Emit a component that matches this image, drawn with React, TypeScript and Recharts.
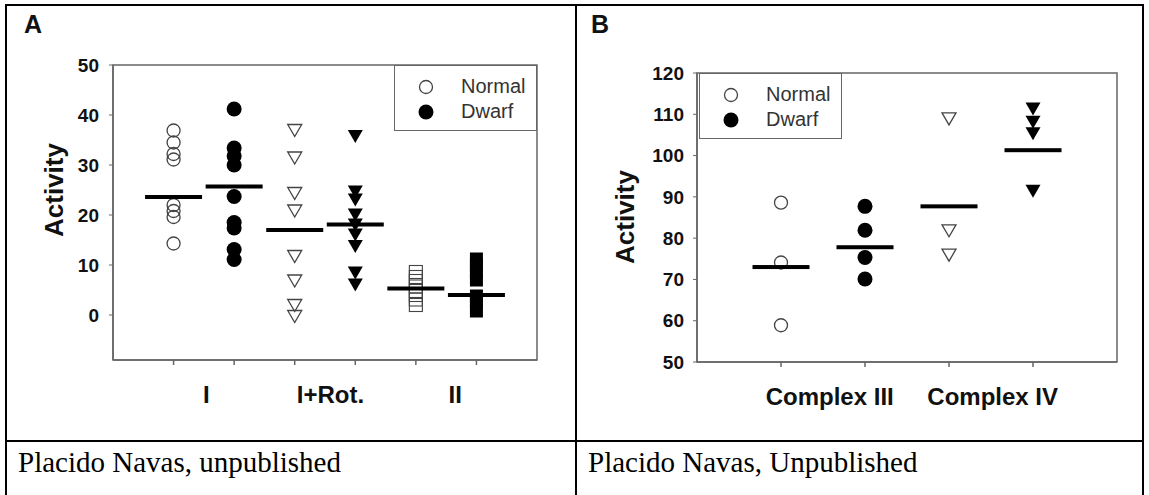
import React from "react";
import { ScatterChart, Scatter, XAxis, YAxis, ReferenceArea, Legend, Label } from "recharts";

// Panel A: complex I, I + rotenone, complex II
const normalI = [36.9, 34.5, 32.2, 31.1, 22.0, 20.8, 19.6, 14.3];
const dwarfI = [41.2, 33.4, 31.8, 30.0, 23.7, 18.5, 17.4, 13.1, 11.1];
const normalIRot = [37.0, 31.5, 24.4, 20.9, 11.8, 6.9, 2.0, -0.2];
const dwarfIRot = [35.8, 24.7, 23.1, 20.1, 18.1, 16.1, 13.8, 8.5, 6.1];
const normalII = [8.6, 7.6, 6.8, 5.7, 4.8, 4.0, 3.1, 2.0];
const dwarfII = [11.2, 10.0, 8.6, 7.0, 3.8, 2.6, 0.8];
const meansA = [23.6, 25.7, 17.0, 18.1, 5.3, 4.0];
const categoriesA = ["I", "I+Rot.", "II"];
const categoryPosA = [1.54, 3.59, 5.65];
const yTicksA = [0, 10, 20, 30, 40, 50];

// Panel B: complex III, complex IV
const normalCIII = [88.6, 74.1, 58.9];
const dwarfCIII = [87.7, 81.9, 75.3, 70.1];
const normalCIV = [109.0, 81.9, 76.0];
const dwarfCIV = [111.4, 108.2, 105.4, 91.5];
const meansB = [73.0, 77.8, 87.7, 101.3];
const categoriesB = ["Complex III", "Complex IV"];
const categoryPosB = [1.58, 3.52];
const yTicksB = [50, 60, 70, 80, 90, 100, 110, 120];

const legendLabels = ["Normal", "Dwarf"];
const footers = ["Placido Navas, unpublished", "Placido Navas, Unpublished"];

const SANS = "'Liberation Sans', Arial, sans-serif";
const AXIS = "#666";

const column = (values: number[], x: number) => values.map((y) => ({ x, y }));
const meanRow = (values: number[]) => values.map((y, i) => ({ x: i + 1, y }));

const OpenCircle = (p: any) => (
  <circle cx={p.cx} cy={p.cy} r={6.5} fill="none" stroke="#444" strokeWidth={1.3} />
);
const FilledCircle = (p: any) => <circle cx={p.cx} cy={p.cy} r={7.5} fill="#000" />;
const OpenTriangle = (p: any) => (
  <path
    d={`M${p.cx - 7},${p.cy - 5.5}L${p.cx + 7},${p.cy - 5.5}L${p.cx},${p.cy + 6.5}Z`}
    fill="none"
    stroke="#444"
    strokeWidth={1.3}
  />
);
const FilledTriangle = (p: any) => (
  <path d={`M${p.cx - 7.5},${p.cy - 6}L${p.cx + 7.5},${p.cy - 6}L${p.cx},${p.cy + 7}Z`} fill="#000" />
);
const OpenSquare = (p: any) => (
  <rect x={p.cx - 6.5} y={p.cy - 6.5} width={13} height={13} fill="none" stroke="#444" strokeWidth={1.1} />
);
const FilledSquare = (p: any) => <rect x={p.cx - 6.5} y={p.cy - 6.5} width={13} height={13} fill="#000" />;
const MeanBar = (p: any) => <rect x={p.cx - 28.5} y={p.cy - 2} width={57} height={4} fill="#000" />;

const XTick = (props: any) => {
  const { x, y, payload, labels, positions } = props;
  const idx = positions.findIndex((v: number) => Math.abs(v - payload.value) < 1e-6);
  if (idx >= 0) {
    return (
      <text x={x} y={y + 43} textAnchor="middle" fontFamily={SANS} fontWeight="bold" fontSize={24} fill="#111">
        {labels[idx]}
      </text>
    );
  }
  return <line x1={x} y1={y} x2={x} y2={y + 5} stroke={AXIS} strokeWidth={1.5} />;
};

const LegendBox = () => (
  <div
    style={{
      width: 143,
      height: 66,
      border: "1.5px solid #666",
      boxSizing: "border-box",
      background: "#fff",
      position: "relative",
      fontFamily: SANS,
    }}
  >
    {legendLabels.map((label, i) => (
      <div key={label}>
        <svg
          width={18}
          height={18}
          style={{ position: "absolute", left: 22, top: 12 + i * 25 }}
        >
          {i === 0 ? (
            <circle cx={9} cy={9} r={6.5} fill="none" stroke="#444" strokeWidth={1.3} />
          ) : (
            <circle cx={9} cy={9} r={7.5} fill="#000" />
          )}
        </svg>
        <span
          style={{
            position: "absolute",
            left: 66,
            top: 9 + i * 25,
            fontSize: 20,
            lineHeight: "22px",
            color: "#333",
          }}
        >
          {label}
        </span>
      </div>
    ))}
  </div>
);

const yLabel = (cx: number, cy: number) => (props: any) => {
  const vb = props.viewBox;
  return (
    <text
      x={vb.x + cx}
      y={cy}
      transform={`rotate(-90, ${vb.x + cx}, ${cy})`}
      textAnchor="middle"
      dominantBaseline="central"
      fontFamily={SANS}
      fontWeight="bold"
      fontSize={26}
      fill="#111"
    >
      Activity
    </text>
  );
};

const tickStyle = { fontFamily: SANS, fontWeight: "bold", fontSize: 19, fill: "#111" };

function PanelA() {
  return (
    <ScatterChart width={576} height={440} margin={{ top: 65, right: 39, bottom: 0, left: 0 }}>
      <ReferenceArea x1={0} x2={7} y1={-9} y2={50} fill="none" stroke={AXIS} strokeWidth={1.5} ifOverflow="visible" />
      <XAxis
        type="number"
        dataKey="x"
        domain={[0, 7]}
        ticks={[1, 2, 3, 4, 5, 6, ...categoryPosA]}
        interval={0}
        height={80}
        tickSize={0}
        tickMargin={0}
        tickLine={false}
        axisLine={{ stroke: AXIS, strokeWidth: 1.5 }}
        tick={(p: any) => <XTick {...p} labels={categoriesA} positions={categoryPosA} />}
      />
      <YAxis
        type="number"
        dataKey="y"
        domain={[-9, 50]}
        ticks={yTicksA}
        interval={0}
        width={113}
        tickSize={4}
        tickMargin={10}
        tickLine={{ stroke: AXIS }}
        axisLine={{ stroke: AXIS, strokeWidth: 1.5 }}
        tick={tickStyle}
      >
        <Label content={yLabel(54, 190)} />
      </YAxis>
      <Scatter data={column(normalI, 1)} shape={OpenCircle} isAnimationActive={false} />
      <Scatter data={column(dwarfI, 2)} shape={FilledCircle} isAnimationActive={false} />
      <Scatter data={column(normalIRot, 3)} shape={OpenTriangle} isAnimationActive={false} />
      <Scatter data={column(dwarfIRot, 4)} shape={FilledTriangle} isAnimationActive={false} />
      <Scatter data={column(normalII, 5)} shape={OpenSquare} isAnimationActive={false} />
      <Scatter data={column(dwarfII, 6)} shape={FilledSquare} isAnimationActive={false} />
      <Scatter data={meanRow(meansA)} shape={MeanBar} isAnimationActive={false} />
      <Legend
        layout="vertical"
        align="center"
        verticalAlign="middle"
        content={() => <LegendBox />}
        wrapperStyle={{ position: "absolute", left: 394, top: 65, width: 143, height: 66 }}
      />
    </ScatterChart>
  );
}

function PanelB() {
  return (
    <ScatterChart width={573} height={440} margin={{ top: 73, right: 32, bottom: 0, left: 0 }}>
      <ReferenceArea x1={0} x2={5} y1={50} y2={120} fill="none" stroke={AXIS} strokeWidth={1.5} ifOverflow="visible" />
      <XAxis
        type="number"
        dataKey="x"
        domain={[0, 5]}
        ticks={[1, 2, 3, 4, ...categoryPosB]}
        interval={0}
        height={78}
        tickSize={0}
        tickMargin={0}
        tickLine={false}
        axisLine={{ stroke: AXIS, strokeWidth: 1.5 }}
        tick={(p: any) => <XTick {...p} labels={categoriesB} positions={categoryPosB} />}
      />
      <YAxis
        type="number"
        dataKey="y"
        domain={[50, 120]}
        ticks={yTicksB}
        interval={0}
        width={121}
        tickSize={4}
        tickMargin={9}
        tickLine={{ stroke: AXIS }}
        axisLine={{ stroke: AXIS, strokeWidth: 1.5 }}
        tick={tickStyle}
      >
        <Label content={yLabel(49, 217)} />
      </YAxis>
      <Scatter data={column(normalCIII, 1)} shape={OpenCircle} isAnimationActive={false} />
      <Scatter data={column(dwarfCIII, 2)} shape={FilledCircle} isAnimationActive={false} />
      <Scatter data={column(normalCIV, 3)} shape={OpenTriangle} isAnimationActive={false} />
      <Scatter data={column(dwarfCIV, 4)} shape={FilledTriangle} isAnimationActive={false} />
      <Scatter data={meanRow(meansB)} shape={MeanBar} isAnimationActive={false} />
      <Legend
        layout="vertical"
        align="center"
        verticalAlign="middle"
        content={() => <LegendBox />}
        wrapperStyle={{ position: "absolute", left: 123, top: 73, width: 143, height: 66 }}
      />
    </ScatterChart>
  );
}

const panelLetter = (left: number, text: string) => (
  <div
    style={{
      position: "absolute",
      left,
      top: 10,
      fontFamily: SANS,
      fontWeight: "bold",
      fontSize: 25,
      lineHeight: "28px",
      color: "#111",
    }}
  >
    {text}
  </div>
);

export default function App() {
  const line = "#000";
  return (
    <div
      style={{
        position: "absolute",
        left: 0,
        top: 0,
        width: 1149,
        height: 495,
        background: "#fff",
        overflow: "hidden",
      }}
    >
      <div style={{ position: "absolute", left: 0, top: 0 }}>
        <PanelA />
      </div>
      <div style={{ position: "absolute", left: 576, top: 0 }}>
        <PanelB />
      </div>
      {panelLetter(24, "A")}
      {panelLetter(591, "B")}
      {/* table rules */}
      <div style={{ position: "absolute", left: 5, top: 4, width: 1139, height: 2, background: line }} />
      <div style={{ position: "absolute", left: 5, top: 440, width: 1139, height: 2, background: line }} />
      <div style={{ position: "absolute", left: 5, top: 4, width: 2, height: 491, background: line }} />
      <div style={{ position: "absolute", left: 575, top: 4, width: 2, height: 491, background: line }} />
      <div style={{ position: "absolute", left: 1142, top: 4, width: 2, height: 491, background: line }} />
      {footers.map((t, i) => (
        <div
          key={t}
          style={{
            position: "absolute",
            left: i === 0 ? 18 : 588,
            top: 446,
            fontFamily: "'Liberation Serif', 'Times New Roman', serif",
            fontSize: 29,
            lineHeight: "32px",
            color: "#000",
          }}
        >
          {t}
        </div>
      ))}
    </div>
  );
}
